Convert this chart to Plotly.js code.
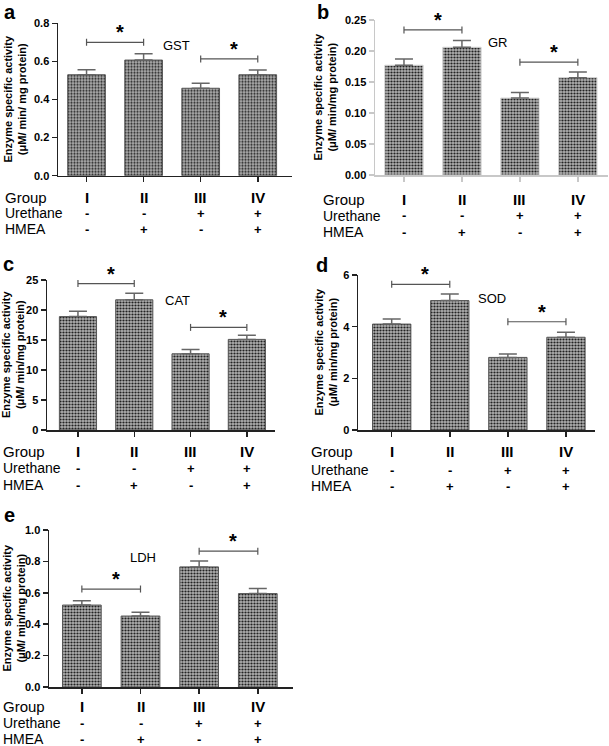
<!DOCTYPE html>
<html>
<head>
<meta charset="utf-8">
<script src="https://cdn.plot.ly/plotly-3.0.1.min.js"></script>
<style>html,body{margin:0;padding:0;background:#fff}#chart{width:609px;height:746px}</style>
</head>
<body>
<div id="chart"></div>
<script>
// ---- data ----
const groups = ['I', 'II', 'III', 'IV'];
const urethane = ['-', '-', '+', '+'];
const hmea = ['-', '+', '-', '+'];

const gstMean = [0.53, 0.607, 0.459, 0.53];
const gstErr  = [0.026, 0.033, 0.026, 0.025];
const gstSig  = [[0, 1, 0.70], [2, 3, 0.613]];

const grMean = [0.177, 0.206, 0.124, 0.157];
const grErr  = [0.010, 0.011, 0.009, 0.009];
const grSig  = [[0, 1, 0.234], [2, 3, 0.182]];

const catMean = [18.9, 21.7, 12.7, 15.1];
const catErr  = [0.9, 1.1, 0.7, 0.7];
const catSig  = [[0, 1, 24.4], [2, 3, 17.1]];

const sodMean = [4.10, 5.01, 2.81, 3.59];
const sodErr  = [0.20, 0.25, 0.13, 0.19];
const sodSig  = [[0, 1, 5.64], [2, 3, 4.19]];

const ldhMean = [0.522, 0.452, 0.765, 0.595];
const ldhErr  = [0.028, 0.024, 0.037, 0.032];
const ldhSig  = [[0, 1, 0.624], [2, 3, 0.865]];

const W = 609, H = 746;
const fx = p => p / W;
const fy = p => 1 - p / H;

const panels = [
  {letter:'a', name:'GST', mean:gstMean, err:gstErr, sig:gstSig, yr:[0,0.8], dt:0.2, fmt:'.1f',
   x0:58, x1:292, y0:23.3, y1:175.7, xr:[-0.5,3.6], axc:'#222', barLine:'#555',
   title:['Enzyme specific activity','(μM/ min/ mg protein)'], tx:14, lblX:3, lblPos:[176,45],
   rows:[197,213,229], letterPos:[2,12]},
  {letter:'b', name:'GR', mean:grMean, err:grErr, sig:grSig, yr:[0,0.25], dt:0.05, fmt:'.2f',
   x0:375, x1:608, y0:20, y1:175, xr:[-0.5,3.52], axc:'#c8c8c8', barLine:'#cfcfcf',
   title:['Enzyme specific activity','(μM/ min/mg protein)'], tx:324, lblX:321, lblPos:[498,42],
   rows:[200,216,232], letterPos:[315,12]},
  {letter:'c', name:'CAT', mean:catMean, err:catErr, sig:catSig, yr:[0,25], dt:5, fmt:'d',
   x0:47, x1:275, y0:280, y1:430, xr:[-0.55,3.5], axc:'#222', barLine:'#555',
   title:['Enzyme specific activity','(μM/ min/mg protein)'], tx:13, lblX:1, lblPos:[178,301],
   rows:[452,468,485], letterPos:[1,264]},
  {letter:'d', name:'SOD', mean:sodMean, err:sodErr, sig:sodSig, yr:[0,6], dt:2, fmt:'d',
   x0:358, x1:595, y0:275, y1:430, xr:[-0.58,3.5], axc:'#222', barLine:'#555',
   title:['Enzyme specific activity','(μM/ min/mg protein)'], tx:326, lblX:309, lblPos:[492,298],
   rows:[452,470,486], letterPos:[314,265]},
  {letter:'e', name:'LDH', mean:ldhMean, err:ldhErr, sig:ldhSig, yr:[0,1.0], dt:0.2, fmt:'.1f',
   x0:49, x1:293, y0:530, y1:687, xr:[-0.56,3.6], axc:'#222', barLine:'#555',
   title:['Enzyme specific activity','(μM/ min/mg protein)'], tx:13, lblX:1, lblPos:[143,557],
   rows:[706,723,739], letterPos:[2,515]}
];

const data = [];
const layout = {
  width: W, height: H, margin: {l:0, r:0, t:0, b:0},
  paper_bgcolor: '#fff', plot_bgcolor: 'rgba(0,0,0,0)',
  showlegend: false,
  font: {family: 'Liberation Sans, Arial, sans-serif', color: '#000'},
  annotations: [], shapes: []
};

panels.forEach((p, i) => {
  const n = i + 1;
  const xa = 'xaxis' + (n === 1 ? '' : n), ya = 'yaxis' + (n === 1 ? '' : n);
  const xr = 'x' + (n === 1 ? '' : n), yr = 'y' + (n === 1 ? '' : n);
  data.push({
    type: 'bar', x: groups, y: p.mean, xaxis: xr, yaxis: yr, width: 0.66,
    marker: {color: '#808080', line: {color: p.barLine, width: 1},
             pattern: {shape: '.', size: 3, solidity: 0.42, fgcolor: '#222', bgcolor: '#b0b0b0', fillmode: 'replace'}},
    error_y: {type: 'data', symmetric: false, array: p.err, arrayminus: p.err.map(() => 0),
              color: '#666', thickness: 1.5, width: 9},
    hoverinfo: 'none'
  });
  layout[xa] = {
    domain: [fx(p.x0), fx(p.x1)], anchor: yr, type: 'category', range: p.xr,
    showline: true, linecolor: p.axc, linewidth: 1.5, ticks: 'outside', ticklen: 5,
    tickwidth: 1.5, tickcolor: p.axc, showticklabels: false, showgrid: false, zeroline: false,
    fixedrange: true
  };
  layout[ya] = {
    domain: [fy(p.y1), fy(p.y0)], anchor: xr, range: p.yr, dtick: p.dt, tick0: 0,
    tickformat: p.fmt === 'd' ? 'd' : p.fmt,
    showline: true, linecolor: p.axc, linewidth: 1.5, ticks: 'outside', ticklen: 5,
    tickwidth: 1.5, tickcolor: p.axc, showgrid: false, zeroline: false,
    tickfont: {size: 11, family: 'Liberation Sans, Arial, sans-serif', color: '#000', weight: 'bold'},
    ticklabelstandoff: 0, fixedrange: true
  };
  // y-axis title (two lines)
  layout.annotations.push({
    xref: 'paper', yref: 'paper', x: fx(p.tx), y: fy((p.y0 + p.y1) / 2),
    text: '<b>' + p.title[0] + '</b><br><b>' + p.title[1] + '</b>', textangle: -90,
    showarrow: false, font: {size: 11, color: '#000'}, xanchor: 'center', yanchor: 'middle'
  });
  // panel letter
  layout.annotations.push({
    xref: 'paper', yref: 'paper', x: fx(p.letterPos[0]), y: fy(p.letterPos[1]),
    text: '<b>' + p.letter + '</b>', showarrow: false, font: {size: 20, color: '#000'},
    xanchor: 'left', yanchor: 'middle'
  });
  // enzyme label
  layout.annotations.push({
    xref: 'paper', yref: 'paper', x: fx(p.lblPos[0]), y: fy(p.lblPos[1]),
    text: p.name, showarrow: false, font: {size: 13, color: '#000'},
    xanchor: 'center', yanchor: 'middle'
  });
  // significance brackets
  p.sig.forEach(s => {
    layout.shapes.push({type: 'line', xref: xr, yref: yr, x0: s[0], x1: s[1], y0: s[2], y1: s[2],
                        line: {color: '#555', width: 1.2}});
    [s[0], s[1]].forEach(xe => {
      layout.shapes.push({type: 'line', xref: xr, yref: yr, ysizemode: 'pixel', yanchor: s[2],
                          x0: xe, x1: xe, y0: -3.5, y1: 3.5, line: {color: '#555', width: 1.2}});
    });
    layout.annotations.push({xref: xr, yref: yr, x: (s[0] + s[1]) / 2 + 0.08, y: s[2],
      text: '<b>*</b>', showarrow: false, font: {size: 20, color: '#000'}, yshift: 10,
      xanchor: 'center', yanchor: 'middle'});
  });
  // table rows
  const rowLabels = ['Group', 'Urethane', 'HMEA'];
  const rowVals = [groups, urethane, hmea];
  rowLabels.forEach((lab, r) => {
    layout.annotations.push({xref: 'paper', yref: 'paper', x: fx(p.lblX), y: fy(p.rows[r]),
      text: lab, showarrow: false, font: {size: r === 0 ? 15 : 14, color: '#000'}, xanchor: 'left', yanchor: 'middle'});
    rowVals[r].forEach((v, k) => {
      layout.annotations.push({xref: xr, yref: 'paper', x: k, y: fy(p.rows[r]),
        text: '<b>' + v + '</b>', showarrow: false,
        font: {size: r === 0 ? 15 : 13, color: '#000'}, xanchor: 'center', yanchor: 'middle'});
    });
  });
});

Plotly.newPlot('chart', data, layout, {displayModeBar: false, staticPlot: true});
</script>
</body>
</html>
